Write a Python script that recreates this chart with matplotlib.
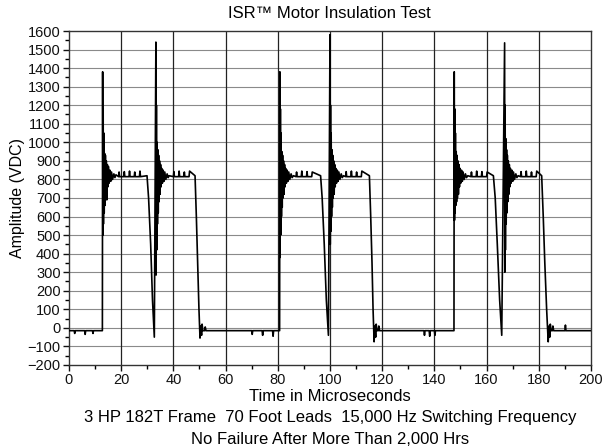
import matplotlib
matplotlib.use("Agg")
import matplotlib.pyplot as plt
from matplotlib.ticker import MultipleLocator

plt.rcParams['font.family'] = ['Liberation Sans', 'DejaVu Sans']

# trace: time (us) and amplitude (VDC)
time_us = [
    # baseline before first pulse
    0.0, 2.0, 2.2, 2.4, 6.0, 6.2, 6.4, 9.0, 9.2, 9.4, 12.8,
    # pulse 1 rise + ringing
    12.9, 13.0, 13.1, 13.2, 13.35, 13.5, 13.65, 13.8, 13.95, 14.1, 14.3, 14.5,
    14.7, 14.9, 15.1, 15.4, 15.7, 16.0, 16.3, 16.7, 17.2, 17.6, 18.0,
    # plateau
    19.0, 19.2, 19.4, 21.0, 21.2, 21.4, 23.0, 23.2, 23.4, 25.0, 25.2, 25.4,
    27.0, 27.2, 27.4, 29.9,
    # fall
    30.5, 31.3, 32.0, 32.7,
    # pulse 2 rise + ringing
    33.3, 33.4, 33.5, 33.6, 33.75, 33.9, 34.05, 34.2, 34.35, 34.5, 34.7, 34.9,
    35.1, 35.3, 35.5, 35.8, 36.1, 36.4, 36.7, 37.1, 37.6, 38.0, 38.4,
    # plateau
    40.0, 40.2, 40.4, 42.0, 42.2, 42.4, 44.0, 44.2, 44.4, 46.0, 46.2, 48.3,
    # fall
    48.8, 49.3, 49.8, 50.2,
    # baseline
    50.5, 50.8, 51.0, 51.3, 52.0, 52.2, 52.5, 60.0, 70.0, 70.2, 70.4, 74.0,
    74.2, 74.4, 78.0, 78.2, 78.4, 80.7,
    # pulse 3 rise + ringing
    80.8, 80.9, 81.0, 81.1, 81.25, 81.4, 81.55, 81.7, 81.85, 82.0, 82.2, 82.4,
    82.6, 82.8, 83.0, 83.3, 83.6, 83.9, 84.2, 84.6, 85.1, 85.5, 86.0,
    # plateau
    87.0, 87.2, 87.4, 89.0, 89.2, 89.4, 91.0, 91.2, 91.4, 93.0, 93.2, 96.4,
    # fall
    97.0, 97.8, 98.6, 99.4,
    # pulse 4 rise + ringing
    100.0, 100.1, 100.2, 100.3, 100.45, 100.6, 100.75, 100.9, 101.05, 101.2,
    101.4, 101.6, 101.8, 102.0, 102.2, 102.5, 102.8, 103.1, 103.4, 103.8,
    104.3, 104.7, 105.2,
    # plateau
    106.0, 106.2, 106.4, 108.0, 108.2, 108.4, 110.0, 110.2, 110.4, 112.0,
    112.2, 115.1,
    # fall
    115.6, 116.1, 116.5, 116.9,
    # baseline
    117.2, 117.5, 117.7, 118.0, 118.5, 118.7, 119.0, 125.0, 136.0, 136.2,
    136.4, 138.0, 138.2, 138.4, 140.0, 140.2, 140.4, 147.5,
    # pulse 5 rise + ringing
    147.6, 147.7, 147.8, 147.9, 148.05, 148.2, 148.35, 148.5, 148.65, 148.8,
    149.0, 149.2, 149.4, 149.6, 149.8, 150.1, 150.4, 150.7, 151.0, 151.4,
    151.9, 152.3, 152.8,
    # plateau
    154.0, 154.2, 154.4, 156.0, 156.2, 156.4, 158.0, 158.2, 158.4, 160.0,
    160.2, 162.6,
    # fall
    163.3, 164.1, 165.0, 165.8,
    # pulse 6 rise + ringing
    166.9, 167.0, 167.1, 167.2, 167.35, 167.5, 167.65, 167.8, 167.95, 168.1,
    168.3, 168.5, 168.7, 168.9, 169.1, 169.4, 169.7, 170.0, 170.3, 170.7,
    171.2, 171.6, 172.1,
    # plateau
    173.0, 173.2, 173.4, 175.0, 175.2, 175.4, 177.0, 177.2, 177.4, 179.0,
    179.2, 181.1,
    # fall
    181.7, 182.3, 183.0, 183.6,
    # baseline to end
    183.9, 184.2, 184.4, 184.7, 185.2, 185.4, 185.7, 190.0, 190.2, 190.4,
    200.0,
]

amplitude_vdc = [
    # baseline before first pulse
    -15, -15, -30, -15, -15, -35, -15, -15, -30, -15, -15,
    # pulse 1 rise + ringing
    1380, 500, 1180, 560, 1050, 620, 940, 660, 930, 700, 900, 690,
    880, 760, 870, 780, 850, 790, 840, 800, 830, 810, 825,
    # plateau
    815, 840, 815, 815, 842, 815, 815, 845, 815, 815, 840, 815,
    815, 845, 815, 820,
    # fall
    700, 450, 150, -50,
    # pulse 2 rise + ringing
    1540, 285, 1200, 420, 1000, 560, 960, 620, 930, 680, 900, 720,
    880, 760, 860, 780, 850, 790, 840, 800, 830, 810, 820,
    # plateau
    815, 842, 815, 815, 845, 815, 815, 840, 815, 815, 845, 820,
    # fall
    600, 350, 100, -55,
    # baseline
    10, -40, 20, -15, -15, 5, -15, -15, -15, -35, -15, -15,
    -40, -15, -15, -45, -15, -15,
    # pulse 3 rise + ringing
    1380, 380, 1180, 500, 1050, 600, 950, 650, 930, 700, 900, 720,
    880, 760, 860, 780, 850, 790, 840, 800, 830, 810, 820,
    # plateau
    815, 840, 815, 815, 845, 815, 815, 842, 815, 815, 840, 820,
    # fall
    700, 450, 150, -40,
    # pulse 4 rise + ringing
    1580, 450, 1200, 520, 1050, 600, 960, 650, 930, 700, 900, 720,
    880, 760, 860, 780, 850, 790, 840, 800, 830, 810, 820,
    # plateau
    815, 842, 815, 815, 845, 815, 815, 840, 815, 815, 845, 820,
    # fall
    600, 350, 100, -75,
    # baseline
    10, -50, 20, -15, -15, 10, -15, -15, -15, -40, -15, -15, -45, -15,
    -15, -40, -15, -15,
    # pulse 5 rise + ringing
    1380, 580, 1180, 620, 1050, 660, 950, 680, 930, 700, 900, 720,
    880, 760, 860, 780, 850, 790, 840, 800, 830, 810, 820,
    # plateau
    815, 840, 815, 815, 845, 815, 815, 842, 815, 815, 840, 820,
    # fall
    700, 450, 150, -40,
    # pulse 6 rise + ringing
    1536, 300, 1200, 420, 1020, 560, 960, 620, 930, 680, 900, 720,
    880, 760, 860, 780, 850, 790, 840, 800, 830, 810, 820,
    # plateau
    815, 842, 815, 815, 845, 815, 815, 840, 815, 815, 845, 820,
    # fall
    600, 350, 100, -75,
    # baseline to end
    10, -50, 20, -15, -15, 10, -15, -15, 15, -15,
    -15,
]

x_ticks = [0, 20, 40, 60, 80, 100, 120, 140, 160, 180, 200]
y_ticks = list(range(-200, 1601, 100))

fig = plt.figure(figsize=(6.12, 4.48), dpi=100)
ax = fig.add_axes([0.1127, 0.1853, 0.853, 0.7455])

# grid: light horizontal lines, darker vertical lines
for v in y_ticks[1:-1]:
    ax.axhline(v, color='#8a8a8a', lw=0.8, zorder=1)
for t in x_ticks[1:-1]:
    ax.axvline(t, color='#222222', lw=0.9, zorder=1)

ax.plot(time_us, amplitude_vdc, color='black', lw=1.2, zorder=3)

ax.set_xlim(0, 200)
ax.set_ylim(-200, 1600)
ax.set_xticks(x_ticks)
ax.set_yticks(y_ticks)
ax.xaxis.set_minor_locator(MultipleLocator(10))
ax.yaxis.set_minor_locator(MultipleLocator(50))
ax.tick_params(which='major', direction='out', length=4, width=1, labelsize=10.5,
               pad=2, colors='#111111')
ax.tick_params(which='minor', direction='out', length=3, width=1)
for s in ax.spines.values():
    s.set_linewidth(1.0)
    s.set_color('#333333')

fig.text(0.539, 0.969, 'ISR™ Motor Insulation Test', ha='center', va='center',
         fontsize=12)
ax.set_ylabel('Amplitude (VDC)', fontsize=11.5, labelpad=2)
fig.text(0.539, 0.114, 'Time in Microseconds', ha='center', va='center',
         fontsize=12)
fig.text(0.539, 0.067, '3 HP 182T Frame  70 Foot Leads  15,000 Hz Switching Frequency',
         ha='center', va='center', fontsize=12)
fig.text(0.539, 0.018, 'No Failure After More Than 2,000 Hrs', ha='center',
         va='center', fontsize=12)

fig.savefig('out.png', dpi=100)
